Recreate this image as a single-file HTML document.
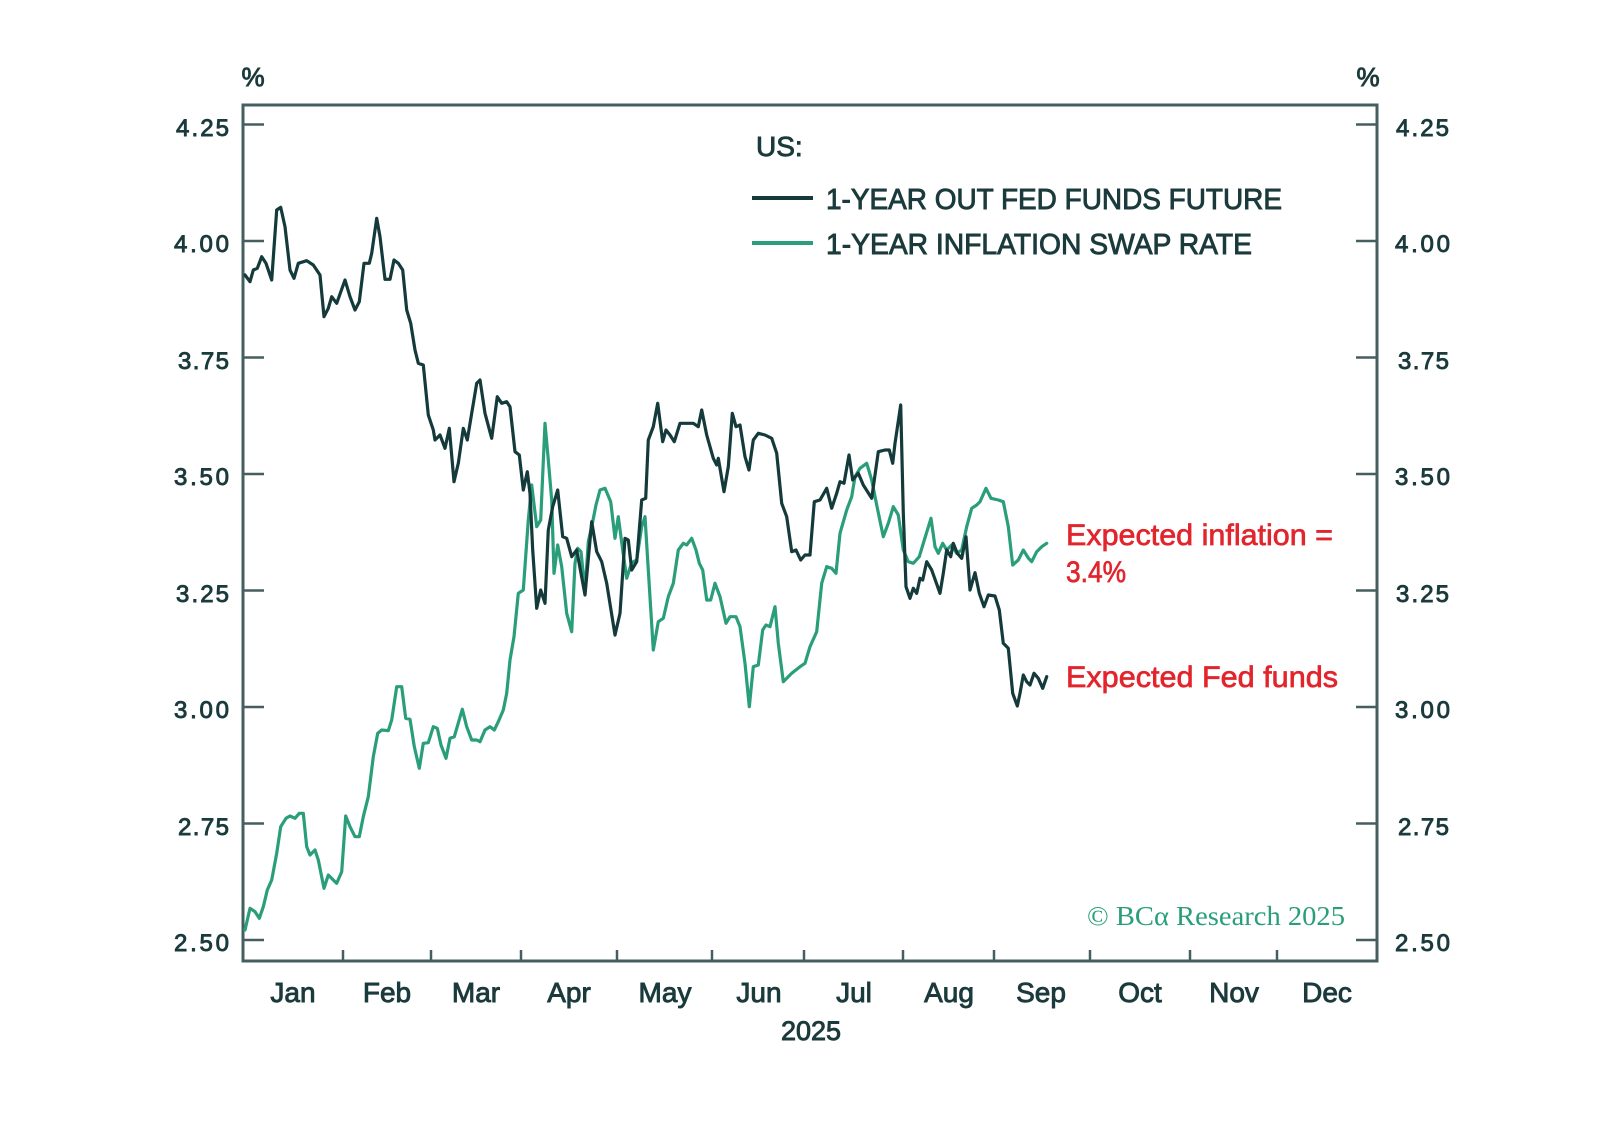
<!DOCTYPE html>
<html>
<head>
<meta charset="utf-8">
<style>
  html, body { margin: 0; padding: 0; background: #ffffff; }
  svg { display: block; }
  .lbl { font-family: "Liberation Sans", "DejaVu Sans", sans-serif; fill: #1b3a3c; stroke: #1b3a3c; stroke-width: 0.9px; }
  .red { font-family: "Liberation Sans", "DejaVu Sans", sans-serif; fill: #e2252d; stroke: #e2252d; stroke-width: 0.7px; }
</style>
</head>
<body>
<svg width="1598" height="1144" viewBox="0 0 1598 1144" xmlns="http://www.w3.org/2000/svg">
  <rect x="0" y="0" width="1598" height="1144" fill="#ffffff"/>

  <!-- frame -->
  <rect x="243" y="105" width="1134" height="856" fill="none" stroke="#455f61" stroke-width="3"/>

  <g stroke="#455f61" stroke-width="2.5">
    <line x1="243" y1="124.5" x2="264" y2="124.5"/>
    <line x1="243" y1="241" x2="264" y2="241"/>
    <line x1="243" y1="357.5" x2="264" y2="357.5"/>
    <line x1="243" y1="474" x2="264" y2="474"/>
    <line x1="243" y1="590.5" x2="264" y2="590.5"/>
    <line x1="243" y1="707" x2="264" y2="707"/>
    <line x1="243" y1="823.5" x2="264" y2="823.5"/>
    <line x1="243" y1="940" x2="264" y2="940"/>
    <line x1="1356" y1="124.5" x2="1377" y2="124.5"/>
    <line x1="1356" y1="241" x2="1377" y2="241"/>
    <line x1="1356" y1="357.5" x2="1377" y2="357.5"/>
    <line x1="1356" y1="474" x2="1377" y2="474"/>
    <line x1="1356" y1="590.5" x2="1377" y2="590.5"/>
    <line x1="1356" y1="707" x2="1377" y2="707"/>
    <line x1="1356" y1="823.5" x2="1377" y2="823.5"/>
    <line x1="1356" y1="940" x2="1377" y2="940"/>
    <line x1="343" y1="950" x2="343" y2="961"/>
    <line x1="431" y1="950" x2="431" y2="961"/>
    <line x1="521" y1="950" x2="521" y2="961"/>
    <line x1="617" y1="950" x2="617" y2="961"/>
    <line x1="712" y1="950" x2="712" y2="961"/>
    <line x1="804" y1="950" x2="804" y2="961"/>
    <line x1="903" y1="950" x2="903" y2="961"/>
    <line x1="994" y1="950" x2="994" y2="961"/>
    <line x1="1090" y1="950" x2="1090" y2="961"/>
    <line x1="1190" y1="950" x2="1190" y2="961"/>
    <line x1="1277" y1="950" x2="1277" y2="961"/>
  </g>

  <text class="lbl" x="253" y="86" font-size="26" text-anchor="middle">%</text>
  <text class="lbl" x="1368" y="86" font-size="26" text-anchor="middle">%</text>

  <g class="lbl" font-size="24" text-anchor="end">
    <text x="229" y="136" textLength="53" lengthAdjust="spacing">4.25</text>
    <text x="229" y="252" textLength="55" lengthAdjust="spacing">4.00</text>
    <text x="229" y="369" textLength="51" lengthAdjust="spacing">3.75</text>
    <text x="229" y="485" textLength="55" lengthAdjust="spacing">3.50</text>
    <text x="229" y="602" textLength="53" lengthAdjust="spacing">3.25</text>
    <text x="229" y="718" textLength="55" lengthAdjust="spacing">3.00</text>
    <text x="229" y="835" textLength="51" lengthAdjust="spacing">2.75</text>
    <text x="229" y="951" textLength="55" lengthAdjust="spacing">2.50</text>
  </g>
  <g class="lbl" font-size="24">
    <text x="1396" y="136" textLength="53" lengthAdjust="spacing">4.25</text>
    <text x="1395" y="252" textLength="55" lengthAdjust="spacing">4.00</text>
    <text x="1398" y="369" textLength="51" lengthAdjust="spacing">3.75</text>
    <text x="1395" y="485" textLength="55" lengthAdjust="spacing">3.50</text>
    <text x="1396" y="602" textLength="53" lengthAdjust="spacing">3.25</text>
    <text x="1395" y="718" textLength="55" lengthAdjust="spacing">3.00</text>
    <text x="1398" y="835" textLength="51" lengthAdjust="spacing">2.75</text>
    <text x="1395" y="951" textLength="55" lengthAdjust="spacing">2.50</text>
  </g>

  <g class="lbl" font-size="28" text-anchor="middle">
    <text x="293" y="1002">Jan</text>
    <text x="387" y="1002">Feb</text>
    <text x="476" y="1002">Mar</text>
    <text x="569" y="1002">Apr</text>
    <text x="665" y="1002">May</text>
    <text x="759" y="1002">Jun</text>
    <text x="854" y="1002">Jul</text>
    <text x="949" y="1002">Aug</text>
    <text x="1041" y="1002">Sep</text>
    <text x="1140" y="1002">Oct</text>
    <text x="1234" y="1002">Nov</text>
    <text x="1327" y="1002">Dec</text>
    <text x="811" y="1040" font-size="27">2025</text>
  </g>

  <!-- legend -->
  <text class="lbl" x="756" y="156" font-size="28">US:</text>
  <line x1="752" y1="198" x2="813" y2="198" stroke="#143a3b" stroke-width="4"/>
  <line x1="752" y1="243" x2="813" y2="243" stroke="#2a9e7a" stroke-width="4"/>
  <text class="lbl" x="826" y="209" font-size="29" textLength="456" lengthAdjust="spacingAndGlyphs">1-YEAR OUT FED FUNDS FUTURE</text>
  <text class="lbl" x="826" y="254" font-size="29" textLength="426" lengthAdjust="spacingAndGlyphs">1-YEAR INFLATION SWAP RATE</text>

  <polyline fill="none" stroke="#2a9e7a" stroke-width="3.2" stroke-linejoin="round" stroke-linecap="round" points="
245,930 250,908.3 255,911.7 259.3,918.3 263.3,906.7 267.3,890 271.7,880 276.7,853.3 280.7,826.7 286,818.3 290,816 295,818.3 299.3,813.3 303.3,813.3 306.7,846.7 310,855 315,850 318.3,860 324,888.3 328.3,875 333.3,880 336.7,883.3 341.7,871.7 345.7,816 350,826.7 355,836.7 359.3,836.7 363.3,816.7 368.3,796.7 373.3,756.7 377.7,733.3 381.7,730 388.3,730.7 391.7,720 396.7,686.7 401.7,686.7 405.7,718.3 410,719.3 414.3,746.7 419.3,768.3 423.3,743.3 428.3,742.7 433.3,726.7 437.3,728.3 441,745 446,758.3 450,738.3 454.3,736.7 462.3,709.3 466.7,726.7 471.7,740 476.7,740 480,741.7 485,730 490,726.7 494.3,730 498.3,721.7 503.3,710 506.7,693.3 510,660 514,636.7 518.3,593.3 523.3,590 528.3,520 531.7,485 536.7,526.7 540.7,520 545,423.3 548.3,460 551.7,500 554,573.3 557.7,545 561.7,566.7 566.7,613.3 571.7,631.7 575,563.3 577.7,548.3 581,551.7 585,591.7 588.3,541.7 592.7,521.7 596,505 600,490 605,488.3 610.7,501.7 615,538.3 618.3,516.7 622.7,550 626.7,578.3 631.7,562.7 636.7,560 641.7,526.7 645,516.7 648.3,570 653.3,650 658.3,621.7 663.3,618.3 668.3,596.7 673.3,583.3 678.3,550 683.3,543.3 686.7,545 691.7,538.3 696,550 699.3,563.3 702.7,570 706.7,600 710.7,600 715,583.3 720,596.7 726,623.3 730,616.7 736,616.7 740,626.7 745,663.3 749.3,706.7 753.3,666.7 758.3,665 762.7,630 766,625 770,626.7 775,606.7 778.3,643.3 783.3,681.7 791.7,673.3 800,666.7 805,663.3 810,646.7 816.7,631.7 821.7,583.3 826.7,566.7 831.7,568.3 836,573.3 840,533.3 846.7,510 851.7,496.7 855,476.7 860,468.3 866.7,463.3 871.7,480 876.7,505 883.3,536.7 888.3,523.3 893.3,506.7 898.3,515 903.3,550 908.3,561.7 913.3,563.3 919.3,556.7 923.3,543.3 931,518.3 935,546.7 938.3,553.3 942.7,543.3 946.7,550 951.7,545 956.7,553.3 961.7,550 966.7,526.7 971.7,508.3 976.7,505 980,501.7 986,488.3 991,498.3 998.3,500 1003.3,501.7 1008.3,526.7 1012.7,565 1018.3,560 1023.3,550 1028.3,558 1031.7,561.7 1036.7,551.7 1041.7,546.7 1046.7,543.3"/>

  <polyline fill="none" stroke="#143a3b" stroke-width="3.2" stroke-linejoin="round" stroke-linecap="round" points="
245,275 250,281.7 253.3,270 257.3,268.3 261.7,256.7 266,263.3 271.7,280 276.7,210 280.7,207.3 285,226.7 290,270 294,278.3 298.3,263.3 306.7,260.7 313.3,265 320,275 324,316.7 328.3,308.3 331.7,296.7 336.7,303.3 345,280 350,296.7 355,310 359.3,301.7 364,263.3 369.3,263.3 371.7,253.3 376.7,218.3 380,236.7 385,279.3 390,279.3 394,260 398.3,263.3 402.7,270 406.7,310 410.7,323.3 415,350 418.3,363.3 423.3,365 428.3,415 433.3,430 435,440 440,435 445,448.3 449.3,428.3 454,481.7 458.3,463.3 463.3,428.3 467.3,440 471.7,413.3 476.7,383.3 480,380 485,413.3 491.7,438.3 497.3,396.7 501.7,403.3 506.7,401.7 510,406.7 515,451.7 519.3,455 523.3,490 527.3,471.7 530,493.3 532.7,550 536.7,608.3 540.7,590 545,603.3 548.3,530 552.7,506.7 557.7,490 562.7,536.7 566.7,538.3 571.7,556.7 576.7,550 585,595 591.7,521.7 596.7,551.7 601.7,561.7 606.7,583.3 615,635 620,613.3 625,538.3 628.3,540 631.7,570 636.7,561.7 641.7,500 645.7,498.3 648.3,440 653.3,426.7 657.7,403.3 662.7,441.7 666,430 670,435 674.3,441.7 680,423.3 693.3,423.3 698.3,426.7 701.7,410 706.7,435 713.3,458.3 716.7,465 718.3,458.3 724,491.7 728.3,466.7 732.3,413.3 736,426.7 740,425 745,456.7 749,470 753.3,440 758.3,433.3 765,435 771.7,438.3 776.7,453.3 781.7,503.3 786.7,516.7 791.7,551.7 796,550 800.7,560 805,555 810,555 814.3,501.7 820,500 826.7,488.3 831.7,508.3 836.7,493.3 840,481.7 844,483.3 849,455 852.7,480 858.3,473.3 863.3,485 871.7,498.3 878.3,451.7 885,450 889.3,450 892.7,463.3 895,443.3 900.7,405 903.3,513 906,586.7 910,598.3 913.3,588.3 916.7,593.3 920,578.3 922.7,580 926.7,561.7 931.7,570 940,593.3 943.3,573.3 946.7,550 950.7,556.7 953.3,543.3 957.3,553.3 961.7,558.3 966,536.7 970,590 975,572.7 979.3,593.3 984,606.7 988.3,595 995,596 999.3,610 1003.3,643.3 1008.3,648.3 1012.7,693.3 1017.3,706 1020,693.3 1023.3,675 1026.7,681.7 1030,685 1034,673.3 1038.3,678.3 1042.7,688.3 1046.7,676.7"/>

  <text class="red" x="1066" y="545" font-size="30" textLength="267" lengthAdjust="spacingAndGlyphs">Expected inflation =</text>
  <text class="red" x="1066" y="582" font-size="30" textLength="60" lengthAdjust="spacingAndGlyphs">3.4%</text>
  <text class="red" x="1066" y="687" font-size="30" textLength="272" lengthAdjust="spacingAndGlyphs">Expected Fed funds</text>

  <text x="1087" y="925" font-family="Liberation Serif, serif" font-size="27" fill="#2a9e7a" textLength="258" lengthAdjust="spacingAndGlyphs">© BCα Research 2025</text>
</svg>
</body>
</html>
